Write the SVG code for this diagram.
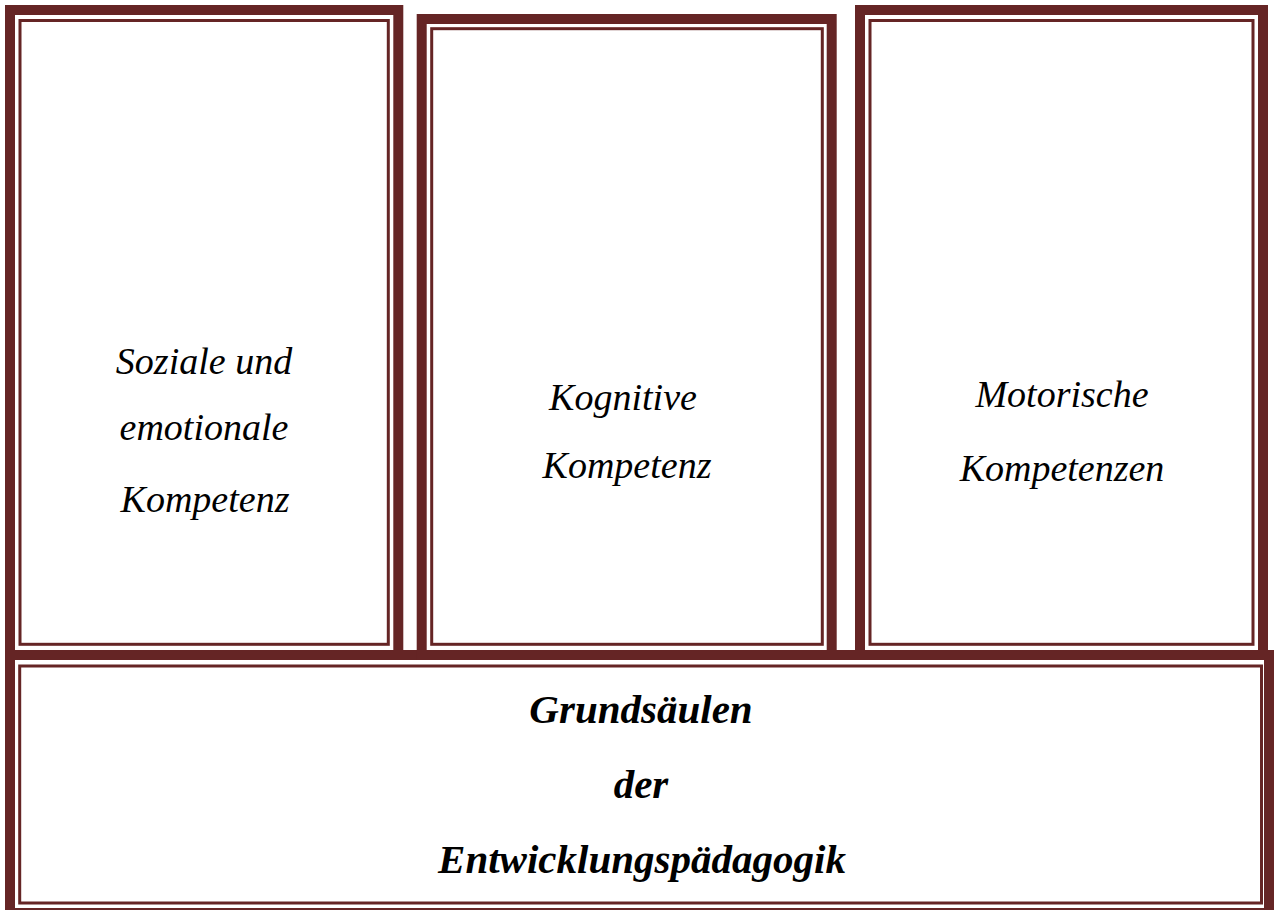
<svg xmlns="http://www.w3.org/2000/svg" width="1274" height="910" viewBox="0 0 1274 910">
<style>
.thick{fill:none;stroke:#652525;stroke-width:10}
.thin{fill:none;stroke:#652525;stroke-width:3}
.t{font-family:"Liberation Serif","Times New Roman",serif;font-style:italic;font-size:38px;fill:#000;text-anchor:middle}
.b{font-weight:bold;font-size:41px}
</style>
<rect width="1274" height="910" fill="#fff"/>
<g id="base">
<rect class="thick" x="10" y="655" width="1259" height="258"/>
<rect class="thin" x="19.7" y="666" width="1241.8" height="237"/>
<text class="t b" x="641" y="723">Grundsäulen</text>
<text class="t b" x="641" y="798">der</text>
<text class="t b" x="642" y="873">Entwicklungspädagogik</text>
</g>
<g id="sozial">
<rect class="thick" x="10" y="10" width="388.3" height="645"/>
<rect class="thin" x="20" y="20.5" width="368.3" height="623.8"/>
<text class="t" x="204" y="374">Soziale und</text>
<text class="t" x="204" y="440">emotionale</text>
<text class="t" x="205" y="512">Kompetenz</text>
</g>
<g id="kognitiv">
<rect class="thick" x="421.7" y="19" width="410" height="636"/>
<rect class="thin" x="431.7" y="28.7" width="390.6" height="615.6"/>
<text class="t" x="623" y="410">Kognitive</text>
<text class="t" x="627" y="478">Kompetenz</text>
</g>
<g id="motorisch">
<rect class="thick" x="860" y="10" width="403" height="645"/>
<rect class="thin" x="870" y="20.5" width="383" height="623.8"/>
<text class="t" x="1062" y="407">Motorische</text>
<text class="t" x="1062" y="481">Kompetenzen</text>
</g>
<g id="connectors"></g>
</svg>
